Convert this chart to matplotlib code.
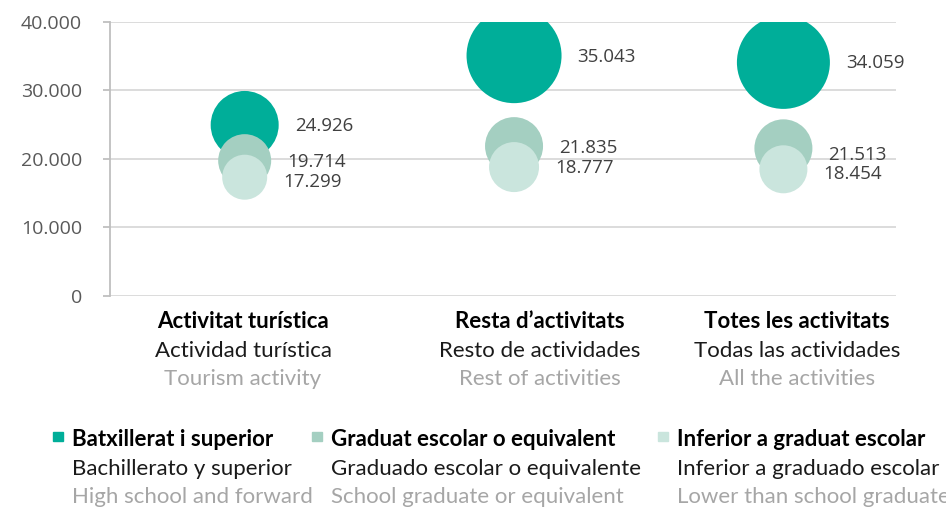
import matplotlib.pyplot as plt

# Data
categories_ca = ["Activitat turística", "Resta d\u2019activitats", "Totes les activitats"]
categories_es = ["Actividad turística", "Resto de actividades", "Todas las actividades"]
categories_en = ["Tourism activity", "Rest of activities", "All the activities"]

series_ca = ["Batxillerat i superior", "Graduat escolar o equivalent", "Inferior a graduat escolar"]
series_es = ["Bachillerato y superior", "Graduado escolar o equivalente", "Inferior a graduado escolar"]
series_en = ["High school and forward", "School graduate or equivalent", "Lower than school graduate"]

high_school = [24926, 35043, 34059]
graduate = [19714, 21835, 21513]
lower = [17299, 18777, 18454]

# bubble diameters (px) as drawn in the original
high_school_size = [68, 95, 93]
graduate_size = [53, 58, 58]
lower_size = [45, 50, 48]

colors = ["#00AE99", "#A4CFC1", "#CAE5DD"]
# small vertical nudges (px) of the value labels, as in the original
label_dy = [[1, 1, 4.5], [1, 1.5, 1], [1, 6.6, 4.7]]

W, H, DPI = 946, 508, 100
fig = plt.figure(figsize=(W / DPI, H / DPI), dpi=DPI)
ax = fig.add_axes([110 / W, 1 - 295.7 / H, (896 - 110) / W, (295.7 - 21.7) / H])

num_font = "Open Sans"
txt_font = "Lato"
txt_size = 16

x = [1, 2, 3]
series = [high_school, graduate, lower]
sizes = [high_school_size, graduate_size, lower_size]
for k, (vals, diam) in enumerate(zip(series, sizes)):
    s = [(d * 72 / DPI) ** 2 for d in diam]
    ax.scatter(x, vals, s=s, color=colors[k], edgecolors="none", zorder=3 + k)
    for i, v in enumerate(vals):
        lab = f"{v:,}".replace(",", ".")
        ax.annotate(lab, (x[i], v), xytext=((diam[i] / 2 + 16) * 72 / DPI, -label_dy[i][k] * 72 / DPI),
                    textcoords="offset points", ha="left", va="center",
                    fontsize=13.5, color="#404040", family=num_font, zorder=10)

ax.set_xlim(0.5, 3.418)
ax.set_ylim(0, 40000)
ax.set_yticks([0, 10000, 20000, 30000, 40000])
ax.set_yticklabels(["0", "10.000", "20.000", "30.000", "40.000"], family=num_font,
                   fontsize=14, color="#595959")
ax.set_xticks([])
ax.grid(axis="y", color="#D9D9D9", linewidth=1.3, zorder=0)
for sp in ["top", "right", "bottom"]:
    ax.spines[sp].set_visible(False)
ax.spines["left"].set_color("#BFBFBF")
ax.spines["left"].set_linewidth(1.3)
ax.tick_params(axis="y", length=5, width=1.3, color="#BFBFBF", pad=15)


def fx(px):
    return px / W


def fy(py):
    return 1 - py / H


# category labels under the axis
cat_x = [243, 540, 797]
for i in range(3):
    fig.text(fx(cat_x[i]), fy(322), categories_ca[i], ha="center", va="center",
             fontsize=txt_size, fontweight="bold", color="#000000", family=txt_font)
    fig.text(fx(cat_x[i]), fy(351), categories_es[i], ha="center", va="center",
             fontsize=txt_size, color="#1A1A1A", family=txt_font)
    fig.text(fx(cat_x[i]), fy(379), categories_en[i], ha="center", va="center",
             fontsize=txt_size, color="#A6A6A6", family=txt_font)

# legend
leg_x = [72, 331, 677]
for i in range(3):
    fig.patches.append(plt.Rectangle((fx(leg_x[i] - 19), fy(441)), 9.5 / W, 9.5 / H,
                                     transform=fig.transFigure, color=colors[i]))
    fig.text(fx(leg_x[i]), fy(440), series_ca[i], ha="left", va="center",
             fontsize=txt_size, fontweight="bold", color="#000000", family=txt_font)
    fig.text(fx(leg_x[i]), fy(469), series_es[i], ha="left", va="center",
             fontsize=txt_size, color="#1A1A1A", family=txt_font)
    fig.text(fx(leg_x[i]), fy(497), series_en[i], ha="left", va="center",
             fontsize=txt_size, color="#A6A6A6", family=txt_font)

fig.savefig("out.png", dpi=DPI)
